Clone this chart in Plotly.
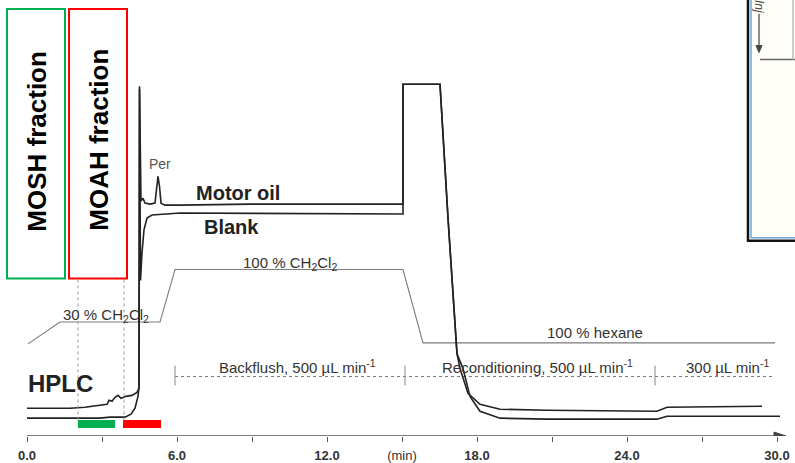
import plotly.graph_objects as go

# ---------------- data (time in min, detector response in arbitrary units) ----------------
# HPLC-UV trace continuing into the GC-FID trace of the motor oil sample
motor_oil_t = [0.00, 1.72, 2.32, 2.92, 3.20, 3.28, 3.40, 3.52, 3.64, 3.76, 3.96, 4.20, 4.40, 4.48,
               4.50, 4.56, 4.64, 4.72, 4.92, 5.12, 5.20, 5.24, 5.30, 5.36, 5.52, 6.12, 8.92,
               15.04, 15.04, 16.52, 16.84, 17.20, 17.32, 17.64, 18.12, 18.92, 20.80, 25.20, 25.60, 29.40]
motor_oil_s = [28, 28, 29, 31, 32, 36, 35, 39, 41, 38, 40, 41, 44, 48,
               353, 237, 240, 235, 234, 235, 255, 262, 252, 235, 233, 233, 234,
               234, 355, 355, 220, 83, 68, 43, 32, 27, 26, 25, 29, 30]

# HPLC-UV trace continuing into the GC-FID trace of the blank
blank_t = [0.00, 2.92, 3.32, 3.92, 4.16, 4.32, 4.44, 4.48, 4.50, 4.54, 4.60, 4.68, 4.80, 5.00, 6.12,
           15.04, 15.04, 16.52, 16.84, 17.20, 17.44, 17.72, 18.12, 18.92, 20.80, 25.20, 25.60, 30.12]
blank_s = [18, 18, 19, 19, 22, 28, 40, 50, 350, 157, 185, 208, 220, 223, 225,
           224, 355, 355, 220, 83, 68, 40, 25, 18, 17, 17, 20, 20]

# HPLC mobile-phase gradient profile
gradient_t = [0.04, 1.32, 5.32, 5.92, 15.04, 15.84, 29.92]
gradient_s = [93, 115, 115, 168, 168, 94, 94]

# Collected fractions (min)
mosh_window = [2.04, 3.52]
moah_window = [3.84, 5.36]
fraction_level = 12

# Flow phases (min)
phase_bounds = [5.92, 15.12, 25.12, 29.92]
phase_level = 60

# x-axis ticks
tick_vals = [0, 6, 12, 15, 18, 24, 30]
tick_text = ["<b>0.0</b>", "<b>6.0</b>", "<b>12.0</b>", "(min)", "<b>18.0</b>", "<b>24.0</b>", "<b>30.0</b>"]
minor_step = 3

# ---------------- helpers for placing decorations ----------------
def T(px):
    return (px - 27) / 25.0

def S(py):
    return 440 - py

FONT = "Liberation Sans, Arial, sans-serif"
INK = "#222222"
GREEN = "#00b050"
RED = "#ff0000"

fig = go.Figure()

# gradient (thin grey)
fig.add_trace(go.Scatter(x=gradient_t, y=gradient_s, mode="lines",
                         line=dict(color="#7a7a7a", width=1.1), hoverinfo="skip"))
# flow-phase dotted line
fig.add_trace(go.Scatter(x=[phase_bounds[0], phase_bounds[-1]], y=[phase_level, phase_level], mode="lines",
                         line=dict(color="#777777", width=1, dash="dot"), hoverinfo="skip"))
for b in phase_bounds[:-1]:
    fig.add_trace(go.Scatter(x=[b, b], y=[phase_level - 9, phase_level + 11], mode="lines",
                             line=dict(color="#888888", width=1), hoverinfo="skip"))

# chromatograms
fig.add_trace(go.Scatter(x=blank_t, y=blank_s, mode="lines",
                         line=dict(color=INK, width=1.6), hoverinfo="skip"))
fig.add_trace(go.Scatter(x=motor_oil_t, y=motor_oil_s, mode="lines",
                         line=dict(color=INK, width=1.6), hoverinfo="skip"))

# fraction bars
fig.add_trace(go.Scatter(x=mosh_window, y=[fraction_level, fraction_level], mode="lines",
                         line=dict(color=GREEN, width=8), hoverinfo="skip"))
fig.add_trace(go.Scatter(x=moah_window, y=[fraction_level, fraction_level], mode="lines",
                         line=dict(color=RED, width=8), hoverinfo="skip"))

shapes = []
# dotted fraction cut lines
for px in (78, 124):
    shapes.append(dict(type="line", xref="x", yref="y", x0=T(px), x1=T(px), y0=S(282), y1=S(425),
                       line=dict(color="#9a9a9a", width=1, dash="dot")))
# fraction boxes
shapes.append(dict(type="rect", xref="x", yref="y", x0=T(7), x1=T(65), y0=S(281), y1=S(9),
                   line=dict(color=GREEN, width=2), fillcolor="white", layer="above"))
shapes.append(dict(type="rect", xref="x", yref="y", x0=T(69), x1=T(127), y0=S(281), y1=S(9),
                   line=dict(color=RED, width=2), fillcolor="white", layer="above"))
# inset fragment (top right)
shapes.append(dict(type="rect", xref="x", yref="y", x0=T(748), x1=T(820), y0=S(243), y1=S(-10),
                   line=dict(color="#111111", width=2.5), fillcolor="#fffdf8"))
shapes.append(dict(type="line", xref="x", yref="y", x0=T(751), x1=T(751), y0=S(240), y1=S(-10),
                   line=dict(color="#6fa8dc", width=1.5)))
shapes.append(dict(type="line", xref="x", yref="y", x0=T(751), x1=T(820), y0=S(240), y1=S(240),
                   line=dict(color="#6fa8dc", width=1.5)))
shapes.append(dict(type="line", xref="x", yref="y", x0=T(760), x1=T(820), y0=S(60), y1=S(60),
                   line=dict(color="#666666", width=1.5)))
shapes.append(dict(type="line", xref="x", yref="y", x0=T(793), x1=T(793), y0=S(60), y1=S(-10),
                   line=dict(color="#bbbbbb", width=1.5)))
# injection arrow in inset
shapes.append(dict(type="line", xref="x", yref="y", x0=T(759), x1=T(759), y0=S(14), y1=S(50),
                   line=dict(color="#444444", width=1.2)))
shapes.append(dict(type="path", xref="x", yref="y",
                   path=f"M {T(756)} {S(46)} L {T(762)} {S(46)} L {T(759)} {S(53)} Z",
                   line=dict(color="#444444", width=1), fillcolor="#444444"))
# time axis line with arrow head
shapes.append(dict(type="line", xref="x", yref="y", x0=T(27), x1=T(780), y0=S(440), y1=S(440),
                   line=dict(color="#555555", width=1.5)))
shapes.append(dict(type="path", xref="x", yref="y",
                   path=f"M {T(774)} {S(436)} L {T(786)} {S(440)} L {T(774)} {S(444)} Z",
                   line=dict(color="#444444", width=1), fillcolor="#444444"))

ann = []
def txt(text, px, py, size, bold=False, color=INK, angle=0, italic=False):
    t = text
    if bold:
        t = "<b>" + t + "</b>"
    if italic:
        t = "<i>" + t + "</i>"
    ann.append(dict(text=t, x=T(px), y=S(py), xref="x", yref="y", showarrow=False,
                    textangle=angle, font=dict(family=FONT, size=size, color=color),
                    xanchor="center", yanchor="middle"))

txt("MOSH fraction", 37, 143, 26, bold=True, color="#000000", angle=-90)
txt("MOAH fraction", 99, 141, 26, bold=True, color="#000000", angle=-90)
txt("HPLC", 60, 387, 24, bold=True)
txt("Motor oil", 238, 195, 20, bold=True)
txt("Blank", 231, 229, 20, bold=True)
txt("Per", 160, 165, 14, color="#555555")
txt("100 % CH<sub>2</sub>Cl<sub>2</sub>", 290, 266, 15, color="#333333")
txt("30 % CH<sub>2</sub>Cl<sub>2</sub>", 106, 318, 15, color="#333333")
txt("100 % hexane", 595, 336, 15, color="#333333")
txt("Backflush, 500 \u00b5L min<sup>-1</sup>", 297, 370, 15, color="#333333")
txt("Reconditioning, 500 \u00b5L min<sup>-1</sup>", 537, 370, 15, color="#333333")
txt("300 \u00b5L min<sup>-1</sup>", 727, 370, 15, color="#333333")
txt("Inj", 759, 6, 12, color="#444444", angle=90, italic=True)

fig.update_layout(
    width=795, height=463,
    margin=dict(l=0, r=0, t=0, b=23),
    paper_bgcolor="white", plot_bgcolor="white",
    showlegend=False,
    shapes=shapes, annotations=ann,
    xaxis=dict(range=[T(0), T(795)], showgrid=False, zeroline=False, showline=False,
               tickmode="array", tickvals=tick_vals, ticktext=tick_text,
               ticks="outside", ticklen=5, tickcolor="#555555", tickwidth=1,
               minor=dict(tick0=0, dtick=minor_step, ticks="outside", ticklen=5,
                          tickcolor="#555555", tickwidth=1),
               ticklabelstandoff=2,
               tickfont=dict(family=FONT, size=13, color="#333333"), fixedrange=True),
    yaxis=dict(range=[0, 440], visible=False, fixedrange=True),
)

fig.write_html("out.html", config={"displayModeBar": False},
               post_script="document.body.style.margin='0';document.body.style.overflow='hidden';")
